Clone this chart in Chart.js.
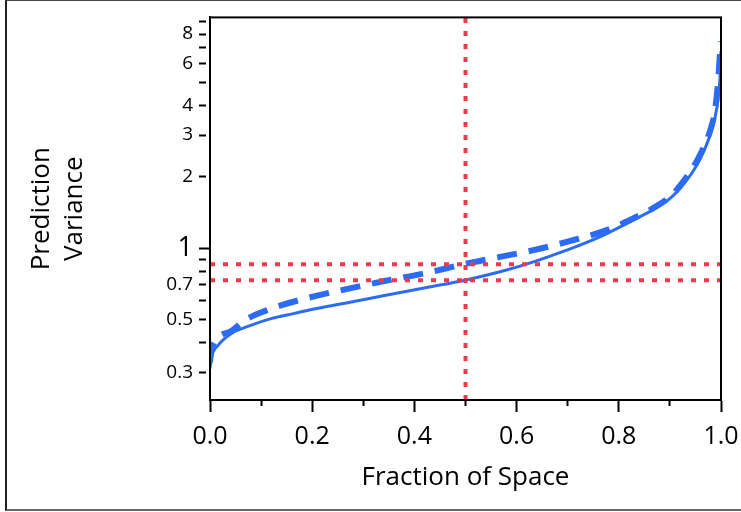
<!DOCTYPE html>
<html>
<head>
<meta charset="utf-8">
<script src="https://cdn.jsdelivr.net/npm/chart.js@4.4.1/dist/chart.umd.min.js"></script>
<style>
  html, body { margin: 0; padding: 0; background: #fff; }
  #wrap { position: relative; width: 741px; height: 512px; overflow: hidden; }
  #frame {
    position: absolute; left: 5px; top: 0; width: 800px; height: 508px;
    border-left: 2px solid #222; border-top: 1px solid #444; border-bottom: 2px solid #666;
    pointer-events: none;
  }
</style>
</head>
<body>
<div id="wrap">
  <canvas id="fdsChart"></canvas>
  <div id="frame"></div>
</div>
<script>
// solid curve (fraction of space, prediction variance)
const solidX = [0, 0.0033, 0.016, 0.042, 0.081, 0.121, 0.165, 0.209, 0.274, 0.339, 0.424, 0.499,
                0.5675, 0.633, 0.698, 0.763, 0.828, 0.861, 0.894, 0.913, 0.93, 0.946, 0.96,
                0.972, 0.981, 0.988, 0.994, 0.998, 1.0];
const solidY = [0.311, 0.348, 0.39, 0.437, 0.474, 0.506, 0.531, 0.557, 0.592, 0.63, 0.683, 0.733,
                0.795, 0.876, 0.981, 1.116, 1.312, 1.43, 1.58, 1.72, 1.9, 2.12, 2.4,
                2.74, 3.1, 3.54, 4.2, 5.22, 6.76];

// dashed curve
const dashedX = [0, 0.003, 0.039, 0.068, 0.108, 0.14, 0.176, 0.254, 0.339, 0.424, 0.499,
                 0.5675, 0.633, 0.698, 0.776, 0.841, 0.868, 0.894, 0.913, 0.93, 0.946, 0.96,
                 0.972, 0.981, 0.988, 0.9948, 0.9994];
const dashedY = [0.33, 0.378, 0.444, 0.497, 0.544, 0.575, 0.605, 0.663, 0.725, 0.787, 0.858,
                 0.919, 0.981, 1.063, 1.191, 1.377, 1.48, 1.61, 1.76, 1.96, 2.2, 2.5,
                 2.85, 3.25, 3.78, 5.22, 7.44];

// median reference lines
const medianFraction = 0.5;
const medianSolid = 0.733;
const medianDashed = 0.856;

// axes
const xMin = 0, xMax = 1;
const yMin = 0.229, yMax = 9.4;
const yTicks = [0.3, 0.4, 0.5, 0.6, 0.7, 0.8, 0.9, 1, 2, 3, 4, 5, 6, 7, 8, 9];
const yLabels = [0.3, 0.5, 0.7, 1, 2, 3, 4, 6, 8];

const blue = '#2c6cf5';
const red = '#ee3a4c';
const FONT = "'Open Sans', 'Noto Sans', sans-serif";

function pts(xs, ys) {
    return xs.map((x, i) => ({ x: x, y: ys[i] }));
}

// box around the plot area
const plotFrame = {
    id: 'plotFrame',
    afterDatasetsDraw(chart) {
        const a = chart.chartArea;
        const ctx = chart.ctx;
        ctx.save();
        ctx.strokeStyle = '#000';
        ctx.lineWidth = 2;
        ctx.strokeRect(a.left, a.top, a.right - a.left, a.bottom - a.top);
        ctx.restore();
    }
};

const refStyle = {
    borderColor: red, borderWidth: 4, borderDash: [5, 8],
    pointRadius: 0, fill: false, tension: 0
};

const ctx = document.getElementById('fdsChart').getContext('2d');

const fdsChart = new Chart(ctx, {
    type: 'line',
    data: {
        datasets: [
            Object.assign({ label: 'median dashed', data: [{ x: xMin, y: medianDashed }, { x: xMax, y: medianDashed }] }, refStyle),
            Object.assign({ label: 'median solid', data: [{ x: xMin, y: medianSolid }, { x: xMax, y: medianSolid }] }, refStyle),
            Object.assign({ label: 'median fraction', data: [{ x: medianFraction, y: yMin }, { x: medianFraction, y: yMax }] }, refStyle),
            {
                label: 'solid',
                data: pts(solidX, solidY),
                borderColor: blue, borderWidth: 3,
                pointRadius: 0, fill: false,
                cubicInterpolationMode: 'monotone'
            },
            {
                label: 'dashed',
                data: pts(dashedX, dashedY),
                borderColor: blue, borderWidth: 6, borderDash: [20, 12],
                pointRadius: 0, fill: false,
                cubicInterpolationMode: 'monotone'
            }
        ]
    },
    options: {
        responsive: true,
        maintainAspectRatio: false,
        animation: false,
        layout: { padding: { top: 17, right: 20, left: 0, bottom: 0 } },
        plugins: {
            legend: { display: false },
            tooltip: { enabled: false }
        },
        scales: {
            x: {
                type: 'linear',
                min: xMin,
                max: xMax,
                afterFit: function(scale) {
                    scale.height = 112;
                    scale.paddingLeft = 0;
                    scale.paddingRight = 0;
                },
                border: { display: true, color: '#000', width: 2 },
                grid: {
                    display: true,
                    drawOnChartArea: false,
                    drawTicks: true,
                    tickLength: 12,
                    tickColor: '#000',
                    tickWidth: 2,
                    tickBorderDash: function(c) {
                        return Math.round(c.tick.value * 10) % 2 === 0 ? [] : [5, 40];
                    }
                },
                ticks: {
                    stepSize: 0.1,
                    autoSkip: false,
                    maxRotation: 0,
                    padding: 10,
                    color: '#000',
                    font: { family: FONT, size: 25 },
                    callback: function(v) {
                        return Math.round(v * 10) % 2 === 0 ? v.toFixed(1) : '';
                    }
                },
                title: {
                    display: true,
                    text: 'Fraction of Space',
                    color: '#000',
                    font: { family: FONT, size: 26 },
                    padding: { top: 0, bottom: 19 }
                }
            },
            y: {
                type: 'logarithmic',
                min: yMin,
                max: yMax,
                afterFit: function(scale) { scale.width = 210; },
                afterBuildTicks: function(scale) {
                    scale.ticks = yTicks.map(v => ({ value: v }));
                },
                border: { display: true, color: '#000', width: 2 },
                grid: {
                    display: true,
                    drawOnChartArea: false,
                    drawTicks: true,
                    tickLength: 11,
                    tickColor: '#000',
                    tickWidth: 2,
                    tickBorderDash: function(c) {
                        return c.tick.value === 1 ? [] : [7, 40];
                    }
                },
                ticks: {
                    autoSkip: false,
                    padding: 6,
                    color: '#000',
                    font: function(c) {
                        return c.tick && c.tick.value === 1 ? { family: FONT, size: 27 } : { family: FONT, size: 19 };
                    },
                    callback: function(v) {
                        return yLabels.indexOf(v) >= 0 ? String(v) : '';
                    }
                },
                title: {
                    display: true,
                    text: ['Prediction', 'Variance'],
                    color: '#000',
                    font: { family: FONT, size: 26, lineHeight: 1.27 },
                    padding: { top: 25, bottom: 0 }
                }
            }
        }
    },
    plugins: [plotFrame]
});
</script>
</body>
</html>
